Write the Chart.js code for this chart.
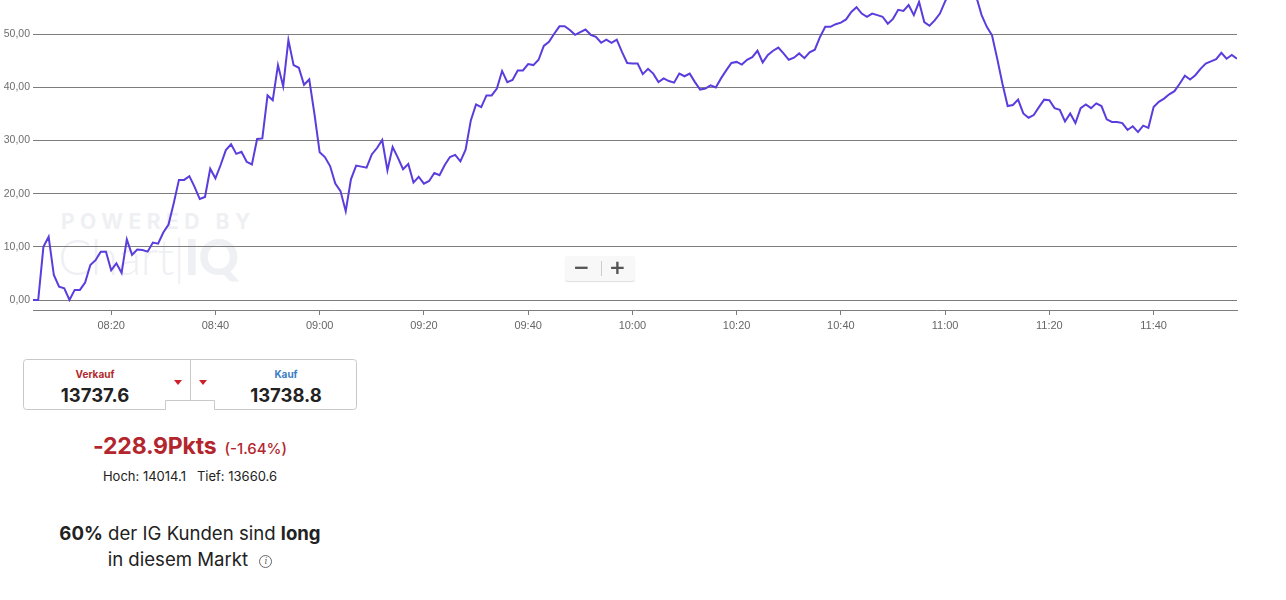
<!DOCTYPE html>
<html>
<head>
<meta charset="utf-8">
<script src="https://cdn.jsdelivr.net/npm/chart.js@4/dist/chart.umd.min.js"></script>
<style>
  body { margin: 0; background: #fff; font-family: Inter, "Noto Sans", sans-serif; color: #222; }
  #wrap { position: absolute; left: 0; top: 0; width: 1240px; height: 340px; }
  #chart { position: absolute; left: 0; top: 0; }
  .wm1 { position: absolute; left: 61px; top: 209px; font: 700 21px Inter, sans-serif; letter-spacing: 5.5px; color: #eff0f3; }
  .wm2 { position: absolute; left: 58px; top: 226px; font: 300 50px Lato, sans-serif; color: #eff0f3; letter-spacing: -1px; }
  .wm2 b { font-weight: 900; }
  .zoom { position: absolute; left: 565px; top: 256px; width: 70px; height: 25px; background: #f8f8f8; border-radius: 3px; box-shadow: 0 1px 1px #ddd; }
  .zoom span { position: absolute; top: -1px; font: 700 20px "DejaVu Sans", sans-serif; color: #555; }
  .zoom i { position: absolute; left: 36px; top: 5px; width: 1px; height: 15px; background: #ccc; }
  .panel { position: absolute; left: 0; top: 350px; width: 380px; }
  .lbl { position: absolute; font-weight: 700; font-size: 10px; text-align: center; width: 120px; }
  .px { position: absolute; font-weight: 700; font-size: 18.5px; text-align: center; width: 140px; color: #222; }
  .change { position: absolute; top: 82px; width: 380px; text-align: center; color: #b3262d; }
  .change b { font-size: 23px; font-weight: 700; letter-spacing: -0.2px; }
  .change span { font-size: 15px; font-weight: 500; margin-left: 8px; }
  .hl { position: absolute; top: 118px; width: 380px; text-align: center; font-size: 13px; }
  .sent { position: absolute; top: 170px; width: 380px; text-align: center; font-size: 18.6px; line-height: 26px; color: #222; }
  .sent b { font-weight: 700; }
  .info { display: inline-block; width: 11px; height: 11px; border: 1px solid #666; border-radius: 50%; font-size: 9px; line-height: 11px; color: #666; vertical-align: 2px; margin-left: 6px; font-style: italic; font-family: "DejaVu Serif", serif; }
</style>
</head>
<body>
<div id="wrap">
  <div class="wm1">POWERED BY</div>
  <div class="wm2">Chart|<b>IQ</b></div>
  <canvas id="chart" width="1240" height="340"></canvas>
  <div class="zoom"><span style="left:8px">−</span><i></i><span style="left:44px">+</span></div>
</div>

<div class="panel">
  <svg width="380" height="70" style="position:absolute;left:0;top:0">
    <path d="M26.5 9.5 H353.5 Q356.5 9.5 356.5 12.5 V56.5 Q356.5 59.5 353.5 59.5 H214.5 V50.5 H165.5 V59.5 H26.5 Q23.5 59.5 23.5 56.5 V12.5 Q23.5 9.5 26.5 9.5 Z" fill="none" stroke="#c9c9c9"/>
    <line x1="190.5" y1="9.5" x2="190.5" y2="50.5" stroke="#c9c9c9"/>
    <path d="M174 30 H182 L178 35 Z" fill="#d0202a"/>
    <path d="M199 30 H207 L203 35 Z" fill="#d0202a"/>
  </svg>
  <div class="lbl" style="left:35px;top:18px;color:#b22a2e">Verkauf</div>
  <div class="px" style="left:25px;top:34px">13737.6</div>
  <div class="lbl" style="left:226px;top:18px;color:#3b7dc4">Kauf</div>
  <div class="px" style="left:216px;top:34px">13738.8</div>
  <div class="change"><b>-228.9Pkts</b><span>(-1.64%)</span></div>
  <div class="hl">Hoch: 14014.1&nbsp;&nbsp; Tief: 13660.6</div>
  <div class="sent"><b>60%</b> der IG Kunden sind <b>long</b><br>in diesem Markt <span class="info">i</span></div>
</div>

<script>
// Verlauf in Punkten, ein Wert pro Minute ab 08:05
const startZeit = "08:05";
const werte08 = [0, 0, 10.0, 11.9, 4.7, 2.5, 2.2, 0, 1.9, 1.9, 3.3, 6.6, 7.5, 9.1, 9.1,
  5.6, 6.9, 5.1, 11.4, 8.5, 9.5, 9.4, 9.1, 10.8, 10.6, 12.7, 14.2, 18.2, 22.6, 22.6,
  23.3, 21.3, 19.0, 19.4, 24.7, 22.9, 25.4, 28.2, 29.3, 27.5, 27.9, 26.0, 25.5, 30.3, 30.4,
  38.5, 37.6, 44.2, 40.2, 48.9, 44.2, 43.7, 40.5, 41.5, 35.0];
const werte09 = [27.8, 26.9, 25.2, 21.9, 20.5, 16.7, 22.7, 25.3, 25.1, 24.9, 27.4, 28.6, 30.1, 24.4, 28.8,
  26.8, 24.6, 25.6, 22.1, 23.2, 21.9, 22.4, 23.9, 23.5, 25.4, 26.9, 27.3, 26.1, 28.3, 33.8,
  36.8, 36.3, 38.5, 38.5, 39.8, 43.1, 41.0, 41.4, 43.2, 43.2, 44.4, 44.2, 45.2, 47.8, 48.6,
  50.1, 51.5, 51.5, 50.8, 49.9, 50.4, 50.9, 49.9, 49.5, 48.4, 49.0, 48.4, 49.0, 46.7, 44.6];
const werte10 = [44.5, 44.5, 42.5, 43.5, 42.6, 41.0, 41.7, 41.2, 40.9, 42.6, 42.1, 42.6, 41.0, 39.6, 39.8,
  40.4, 40.0, 41.7, 43.2, 44.6, 44.8, 44.3, 45.2, 45.7, 46.9, 44.7, 46.1, 46.9, 47.5, 46.4,
  45.2, 45.6, 46.4, 45.5, 46.6, 47.1, 49.5, 51.4, 51.4, 51.9, 52.2, 52.8, 54.2, 55.1, 53.9,
  53.3, 53.9, 53.6, 53.3, 52.0, 52.9, 54.6, 54.4, 55.5, 53.6, 56.1, 52.3, 51.6, 52.6, 53.9];
const werte11 = [56.2, 58.0, 59.5, 60.0, 59.0, 58.5, 57.0, 53.6, 51.4, 49.8, 45.4, 40.7, 36.5, 36.7, 37.7,
  35.1, 34.3, 34.8, 36.3, 37.7, 37.6, 36.1, 35.8, 33.6, 35.1, 33.3, 36.1, 36.8, 36.1, 37.0,
  36.5, 34.0, 33.5, 33.5, 33.3, 32.0, 32.7, 31.6, 32.8, 32.4, 36.3, 37.3, 37.9, 38.7, 39.3,
  40.7, 42.2, 41.5, 42.3, 43.5, 44.5, 44.9, 45.3, 46.5, 45.4, 46.1, 45.4];

const xTickLabels = ["08:20", "08:40", "09:00", "09:20", "09:40", "10:00", "10:20", "10:40", "11:00", "11:20", "11:40"];
const yTickWerte = [0, 10, 20, 30, 40, 50];

function zuMinuten(s) {
    const [h, m] = s.split(":").map(Number);
    return h * 60 + m;
}
function zuZeit(v) {
    const h = Math.floor(v / 60), m = v % 60;
    return String(h).padStart(2, "0") + ":" + String(m).padStart(2, "0");
}

const alle = [...werte08, ...werte09, ...werte10, ...werte11];
const start = zuMinuten(startZeit);
const punkte = alle.map((v, i) => ({ x: start + i, y: v }));

const grau = "#7d7d7d";

new Chart(document.getElementById("chart"), {
    type: "line",
    data: {
        datasets: [{
            data: punkte,
            borderColor: "#5b3cdc",
            borderWidth: 2,
            pointRadius: 0,
            tension: 0,
            fill: false
        }]
    },
    options: {
        responsive: false,
        animation: false,
        devicePixelRatio: 1,
        layout: { padding: { top: 0, right: 3, bottom: 0, left: 0 } },
        plugins: { legend: { display: false }, tooltip: { enabled: false } },
        scales: {
            x: {
                type: "linear",
                min: start,
                max: start + alle.length - 1,
                afterBuildTicks: s => { s.ticks = xTickLabels.map(l => ({ value: zuMinuten(l) })); },
                afterFit: s => { s.height = 30; },
                grid: { drawOnChartArea: false, drawTicks: true, tickLength: 5, color: grau },
                border: { display: true, color: grau, width: 1 },
                ticks: {
                    callback: v => zuZeit(v),
                    color: "#666",
                    font: { family: "Liberation Sans", size: 11 },
                    padding: 4,
                    maxRotation: 0,
                    autoSkip: false
                }
            },
            y: {
                min: -1.88,
                max: 56.45,
                afterBuildTicks: s => { s.ticks = yTickWerte.map(v => ({ value: v })); },
                afterFit: s => { s.width = 33; s.paddingTop = 0; s.paddingBottom = 0; },
                grid: { color: grau, drawTicks: false, lineWidth: 1 },
                border: { display: false },
                ticks: {
                    callback: v => v.toFixed(2).replace(".", ","),
                    color: "#6e6e6e",
                    font: { family: "Liberation Sans", size: 10.5 },
                    padding: 3
                }
            }
        }
    }
});
</script>
</body>
</html>
